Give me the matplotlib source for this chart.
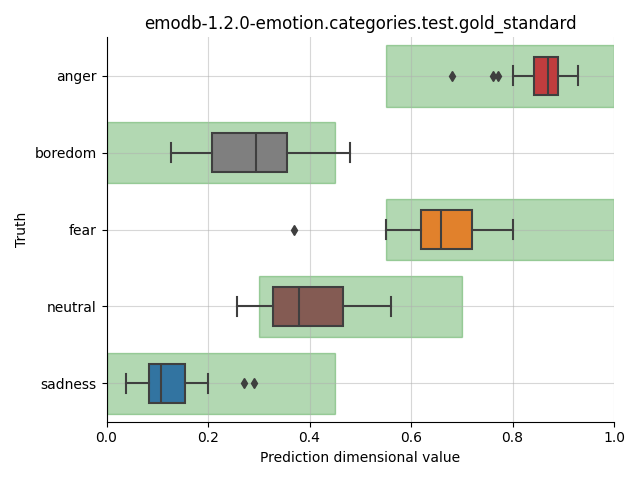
import matplotlib
matplotlib.use("Agg")
import matplotlib.pyplot as plt
from matplotlib.patches import Rectangle

# categories top -> bottom
cats = ["anger", "boredom", "fear", "neutral", "sadness"]
colors = ["#c03d3e", "#7f7f7f", "#e1812c", "#845b53", "#3274a1"]
# box stats
whislo = [0.801, 0.128, 0.550, 0.258, 0.039]
q1 = [0.843, 0.208, 0.619, 0.329, 0.084]
med = [0.869, 0.294, 0.659, 0.379, 0.108]
q3 = [0.890, 0.356, 0.721, 0.466, 0.154]
whishi = [0.929, 0.479, 0.801, 0.560, 0.199]
fliers = [[0.681, 0.761, 0.772], [], [0.370], [], [0.271, 0.291]]
# gold-standard ranges (green bands)
band_lo = [0.55, 0.0, 0.55, 0.30, 0.0]
band_hi = [1.0, 0.45, 1.0, 0.70, 0.45]

fig, ax = plt.subplots(figsize=(6.4, 4.8), dpi=100)
for i in range(len(cats)):
    ax.add_patch(Rectangle((band_lo[i], i - 0.4), band_hi[i] - band_lo[i], 0.8,
                           color="green", alpha=0.3, zorder=0.5))

stats = [dict(whislo=whislo[i], q1=q1[i], med=med[i], q3=q3[i], whishi=whishi[i],
              fliers=fliers[i], label=cats[i]) for i in range(len(cats))]
lc = "#3f3f3f"
bp = ax.bxp(stats, positions=range(len(cats)), orientation="horizontal", widths=0.5,
            patch_artist=True,
            boxprops=dict(edgecolor=lc, linewidth=1.5),
            medianprops=dict(color=lc, linewidth=1.5),
            whiskerprops=dict(color=lc, linewidth=1.5),
            capprops=dict(color=lc, linewidth=1.5),
            flierprops=dict(marker="d", markerfacecolor=lc, markeredgecolor=lc, markersize=5))
for patch, c in zip(bp["boxes"], colors):
    patch.set_facecolor(c)

ax.set_xlim(0, 1)
ax.set_ylim(len(cats) - 0.5, -0.5)
ax.set_yticks(range(len(cats)))
ax.set_yticklabels(cats)
ax.grid(True, color="#b0b0b0", alpha=0.5, linewidth=0.8)
ax.set_axisbelow("line")
for sp in ("top", "right"):
    ax.spines[sp].set_visible(False)
ax.set_xlabel("Prediction dimensional value")
ax.set_ylabel("Truth")
ax.set_title("emodb-1.2.0-emotion.categories.test.gold_standard")
plt.tight_layout()
plt.savefig("out.png", dpi=100)
